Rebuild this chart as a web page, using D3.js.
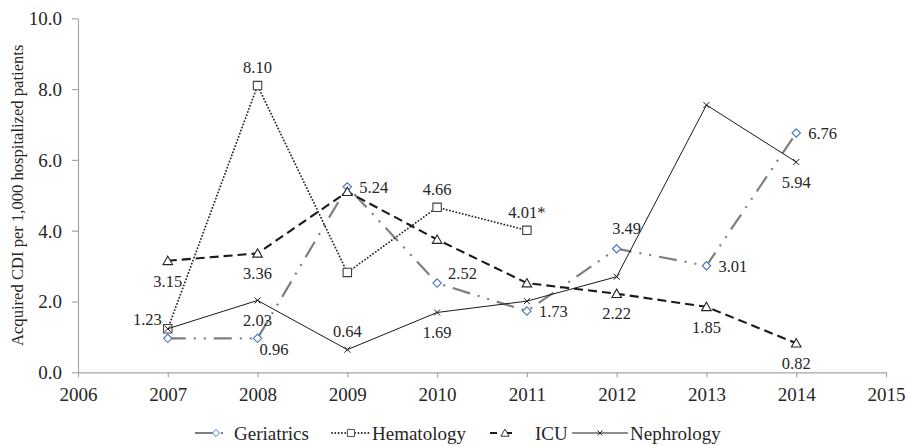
<!DOCTYPE html>
<html>
<head>
<meta charset="utf-8">
<script src="https://cdn.jsdelivr.net/npm/d3@7"></script>
<style>
html,body{margin:0;padding:0;background:#fff;}
svg{display:block;}
text{font-family:"Liberation Serif","Times New Roman",serif;fill:#262626;}
</style>
</head>
<body>
<svg id="chart" width="908" height="446"></svg>
<script>
const years = [2007, 2008, 2009, 2010, 2011, 2012, 2013, 2014];
const xTicks = [2006, 2007, 2008, 2009, 2010, 2011, 2012, 2013, 2014, 2015];
const yTicks = [0, 2, 4, 6, 8, 10];
const seriesNames = ["Geriatrics", "Hematology", "ICU", "Nephrology"];
const geriatrics = [0.96, 0.96, 5.24, 2.52, 1.73, 3.49, 3.01, 6.76];
const hematology = [1.23, 8.10, 2.82, 4.66, 4.01, null, null, null];
const icu = [3.15, 3.36, 5.10, 3.75, 2.52, 2.22, 1.85, 0.82];
const nephrology = [1.23, 2.03, 0.64, 1.69, 2.01, 2.70, 7.55, 5.94];
const yTitle = "Acquired CDI per 1,000 hospitalized patients";
// data labels: series, year, text, placement keyword
const labels = [
  ["Hematology", 2007, "1.23", "upLeft"],
  ["ICU", 2007, "3.15", "below"],
  ["Hematology", 2008, "8.10", "above"],
  ["ICU", 2008, "3.36", "below"],
  ["Nephrology", 2008, "2.03", "below"],
  ["Geriatrics", 2008, "0.96", "downRight"],
  ["Geriatrics", 2009, "5.24", "right"],
  ["Nephrology", 2009, "0.64", "above"],
  ["Hematology", 2010, "4.66", "above"],
  ["Geriatrics", 2010, "2.52", "upRight"],
  ["Nephrology", 2010, "1.69", "below"],
  ["Hematology", 2011, "4.01*", "above"],
  ["Geriatrics", 2011, "1.73", "right"],
  ["Geriatrics", 2012, "3.49", "upRightHigh"],
  ["ICU", 2012, "2.22", "below"],
  ["Geriatrics", 2013, "3.01", "right"],
  ["ICU", 2013, "1.85", "below"],
  ["Geriatrics", 2014, "6.76", "right"],
  ["Nephrology", 2014, "5.94", "below"],
  ["ICU", 2014, "0.82", "below"]
];

const valuesBy = {Geriatrics: geriatrics, Hematology: hematology, ICU: icu, Nephrology: nephrology};
const styles = {
  Geriatrics: {stroke: "#7f7f7f", width: 2.2, dash: "18,8,2,8,2,8", marker: "diamond", mstroke: "#4472c4", cap: "butt"},
  Hematology: {stroke: "#262626", width: 1.8, dash: "0.1,3.2", marker: "square", mstroke: "#404040", cap: "round"},
  ICU: {stroke: "#1a1a1a", width: 2.1, dash: "9,5", marker: "triangle", mstroke: "#262626", cap: "butt"},
  Nephrology: {stroke: "#1a1a1a", width: 1, dash: null, marker: "cross", mstroke: "#1a1a1a", cap: "butt"}
};
const FONT = '"Liberation Serif","Times New Roman",serif';

const svg = d3.select("#chart");
const x = d3.scaleLinear().domain([2006, 2015]).range([78, 886]);
const y = d3.scaleLinear().domain([0, 10]).range([372.3, 18.3]);

// Axes
const xAxis = svg.append("g").attr("transform", `translate(0,${y(0)})`)
  .call(d3.axisBottom(x).tickValues(xTicks).tickFormat(d3.format("d")).tickSize(5).tickSizeOuter(0));
const yAxis = svg.append("g").attr("transform", `translate(${x(2006)},0)`)
  .call(d3.axisLeft(y).tickValues(yTicks).tickFormat(d3.format(".1f")).tickSize(6).tickSizeOuter(0));
[xAxis, yAxis].forEach(g => {
  g.attr("font-family", null).attr("font-size", null);
  g.select(".domain").attr("stroke", "#a6a6a6").attr("stroke-width", 1.2);
  g.selectAll(".tick line").attr("stroke", "#a6a6a6").attr("stroke-width", 1.2);
  g.selectAll(".tick text").attr("fill", "#262626")
    .style("font-family", FONT).style("font-size", "19px");
});
xAxis.selectAll(".tick text").attr("dy", null).attr("y", 29);
yAxis.selectAll(".tick text").attr("x", -16).attr("dy", "0.34em");

// Y title
svg.append("text")
  .attr("transform", `translate(23,${(y(0) + y(10)) / 2}) rotate(-90)`)
  .attr("text-anchor", "middle")
  .style("font-family", FONT)
  .style("font-size", "16.6px")
  .text(yTitle);

function markerPath(type) {
  switch (type) {
    case "diamond": return "M0,-4.2L4.2,0L0,4.2L-4.2,0Z";
    case "square": return "M-4.2,-4.2H4.2V4.2H-4.2Z";
    case "triangle": return "M0,-4.6L4.8,3.8H-4.8Z";
    case "cross": return "M-3,-3L3,3M-3,3L3,-3";
  }
}

const line = d3.line().defined(d => d.v != null).x(d => x(d.year)).y(d => y(d.v));

seriesNames.forEach(name => {
  const st = styles[name];
  const pts = years.map((yr, i) => ({year: yr, v: valuesBy[name][i]}));
  const g = svg.append("g");
  g.append("path").datum(pts).attr("d", line)
    .attr("fill", "none").attr("stroke", st.stroke).attr("stroke-width", st.width)
    .attr("stroke-dasharray", st.dash).attr("stroke-linecap", st.cap);
  g.selectAll("path.m").data(pts.filter(d => d.v != null)).enter().append("path")
    .attr("class", "m")
    .attr("transform", d => `translate(${x(d.year)},${y(d.v)})`)
    .attr("d", markerPath(st.marker))
    .attr("fill", st.marker === "cross" ? "none" : "#fff")
    .attr("stroke", st.mstroke).attr("stroke-width", st.marker === "cross" ? 1 : 1.1);
});

// Data labels
const place = {
  above: ["middle", 0, -18],
  below: ["middle", 0, 20],
  right: ["start", 12, 0],
  upLeft: ["end", -6, -10],
  downRight: ["start", 2, 11],
  upRight: ["start", 11, -10],
  upRightHigh: ["middle", 10, -21]
};
labels.forEach(([name, yr, txt, pos]) => {
  const v = valuesBy[name][years.indexOf(yr)];
  const p = place[pos];
  svg.append("text")
    .attr("x", x(yr) + p[1]).attr("y", y(v) + p[2])
    .attr("dy", "0.35em")
    .attr("text-anchor", p[0])
    .style("font-family", FONT)
    .style("font-size", "16.5px")
    .text(txt);
});

// Legend
const legendItems = [
  {name: "Geriatrics", x0: 195, x1: 231, tx: 234},
  {name: "Hematology", x0: 332, x1: 370, tx: 372},
  {name: "ICU", x0: 490, x1: 520, tx: 535},
  {name: "Nephrology", x0: 572, x1: 628, tx: 630}
];
const ly = 433;
legendItems.forEach(it => {
  const st = styles[it.name];
  const lg = svg.append("g");
  const dash = it.name === "Geriatrics" ? "18,8,2,8" : (it.name === "ICU" ? "7,8" : st.dash);
  lg.append("line").attr("x1", it.x0).attr("x2", it.x1).attr("y1", ly).attr("y2", ly)
    .attr("stroke", st.stroke).attr("stroke-width", st.width)
    .attr("stroke-dasharray", dash).attr("stroke-linecap", st.cap);
  const mx = it.name === "Geriatrics" ? 216 : (it.x0 + it.x1) / 2;
  lg.append("path").attr("transform", `translate(${mx},${ly}) scale(0.85)`)
    .attr("d", markerPath(st.marker))
    .attr("fill", st.marker === "cross" ? "none" : "#fff")
    .attr("stroke", st.mstroke).attr("stroke-width", 1.1);
  lg.append("text").attr("x", it.tx).attr("y", ly).attr("dy", "0.35em")
    .style("font-family", FONT)
    .style("font-size", "19px").text(it.name);
});
</script>
</body>
</html>
